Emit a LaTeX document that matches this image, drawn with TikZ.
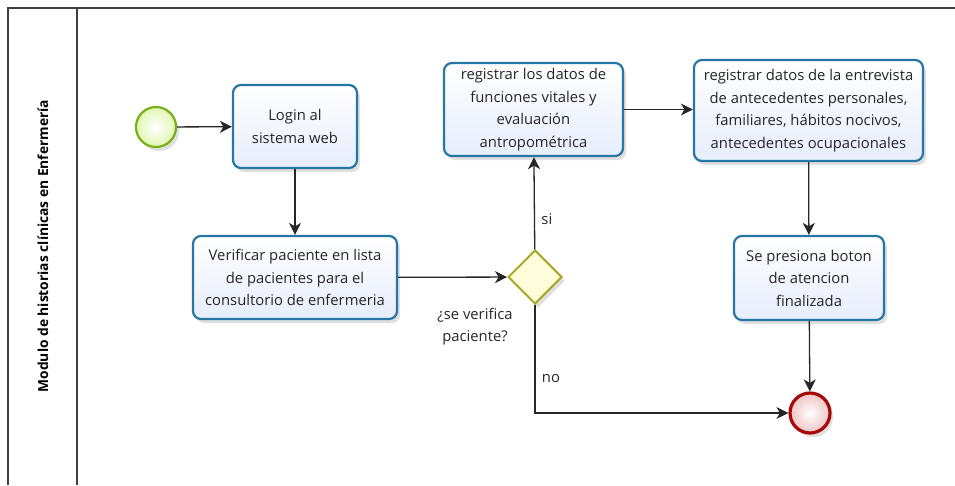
\documentclass[tikz,border=0pt]{standalone}
\usepackage{fontspec}
\setmainfont{Open Sans}
\usepackage{tikz}
\usetikzlibrary{arrows.meta}
\usetikzlibrary{calc}
\usetikzlibrary{shapes}
\usetikzlibrary{shadows}

\definecolor{taskblue}{RGB}{38,118,166}
\definecolor{taskfill}{RGB}{230,237,252}
\definecolor{startgreen}{RGB}{118,176,28}
\definecolor{startfill}{RGB}{226,246,178}
\definecolor{endred}{RGB}{168,8,8}
\definecolor{endfill}{RGB}{240,196,196}
\definecolor{gateolive}{RGB}{168,168,40}
\definecolor{gatefill}{RGB}{253,253,220}

\begin{document}
\begin{tikzpicture}[x=1pt, y=-1pt,
        task_style/.style={rectangle,rounded corners=8pt,draw=taskblue,line width=2.2pt,top color=white,bottom color=taskfill,
            drop shadow={opacity=0.25,shadow xshift=3pt,shadow yshift=-4pt},align=center,text=black!85,
            font=\fontsize{14.8}{22.5}\selectfont,inner sep=0pt},
        start_style/.style={circle,draw=startgreen,line width=2.2pt,inner color=white,outer color=startfill,minimum size=40pt,
            drop shadow={opacity=0.25,shadow xshift=3pt,shadow yshift=-4pt}},
        end_style/.style={circle,draw=endred,line width=3.2pt,inner color=white,outer color=endfill,minimum size=40pt,
            drop shadow={opacity=0.25,shadow xshift=3pt,shadow yshift=-4pt}},
        gate_style/.style={diamond,draw=gateolive,line width=2pt,fill=gatefill,minimum width=54pt,minimum height=54pt,inner sep=0pt,
            drop shadow={opacity=0.25,shadow xshift=3pt,shadow yshift=-4pt}},
        edge_style/.style={draw=black!85, line width=1.3pt,-{Stealth[length=12pt,width=12pt,inset=3.5pt]}},
        label_style/.style={text=black!85,font=\fontsize{14.8}{22}\selectfont,align=center},
        frame_style/.style={draw=black!75,line width=1.6pt}]

        \useasboundingbox (0,0) rectangle (955,485);

        \draw [frame_style] (8,485) |- (955,8);

        \draw [frame_style] (77,8) -- (77,485);

        \node [rotate=90,text=black,font=\fontsize{13.8}{16}\selectfont\bfseries](lane) at (43,246) {Modulo de historias clínicas en Enfermería};

        \node [start_style](start) at (156,127) {};

        \node [task_style,minimum width=124pt,minimum height=83pt](login) at (295,126.5) {Login al\\sistema web};

        \node [task_style,minimum width=204pt,minimum height=83pt](verif) at (295,277.5) {Verificar paciente en lista\\de pacientes para el\\consultorio de enfermeria};

        \node [gate_style](gate) at (535,277) {};

        \node [label_style](question) at (475,327) {¿se verifica\\paciente?};

        \node [task_style,minimum width=179pt,minimum height=93pt](vitals) at (533.5,109.5) {registrar los datos de\\funciones vitales y\\evaluación\\antropométrica};

        \node [task_style,minimum width=229pt,minimum height=101pt](interview) at (808.5,110.5) {registrar datos de la entrevista\\de antecedentes personales,\\familiares, hábitos nocivos,\\antecedentes ocupacionales};

        \node [task_style,minimum width=150pt,minimum height=84pt](finish) at (809,278) {Se presiona boton\\de atencion\\finalizada};

        \node [end_style](end) at (810,413) {};

        \draw [edge_style] (start) -- (login);

        \draw [edge_style] (login) -- (verif);

        \draw [edge_style] (verif) -- (gate);

        \draw [edge_style] (gate) -- node[label_style,pos=0.33,right,xshift=3pt]{si} (vitals);

        \draw [edge_style] (gate) |- node[label_style,pos=0.34,right,xshift=3pt]{no} (end);

        \draw [edge_style] (vitals) -- (vitals -| interview.west);

        \draw [edge_style] (interview) -- (finish);

        \draw [edge_style] (finish) -- (end);

        \end{tikzpicture}
\end{document}
